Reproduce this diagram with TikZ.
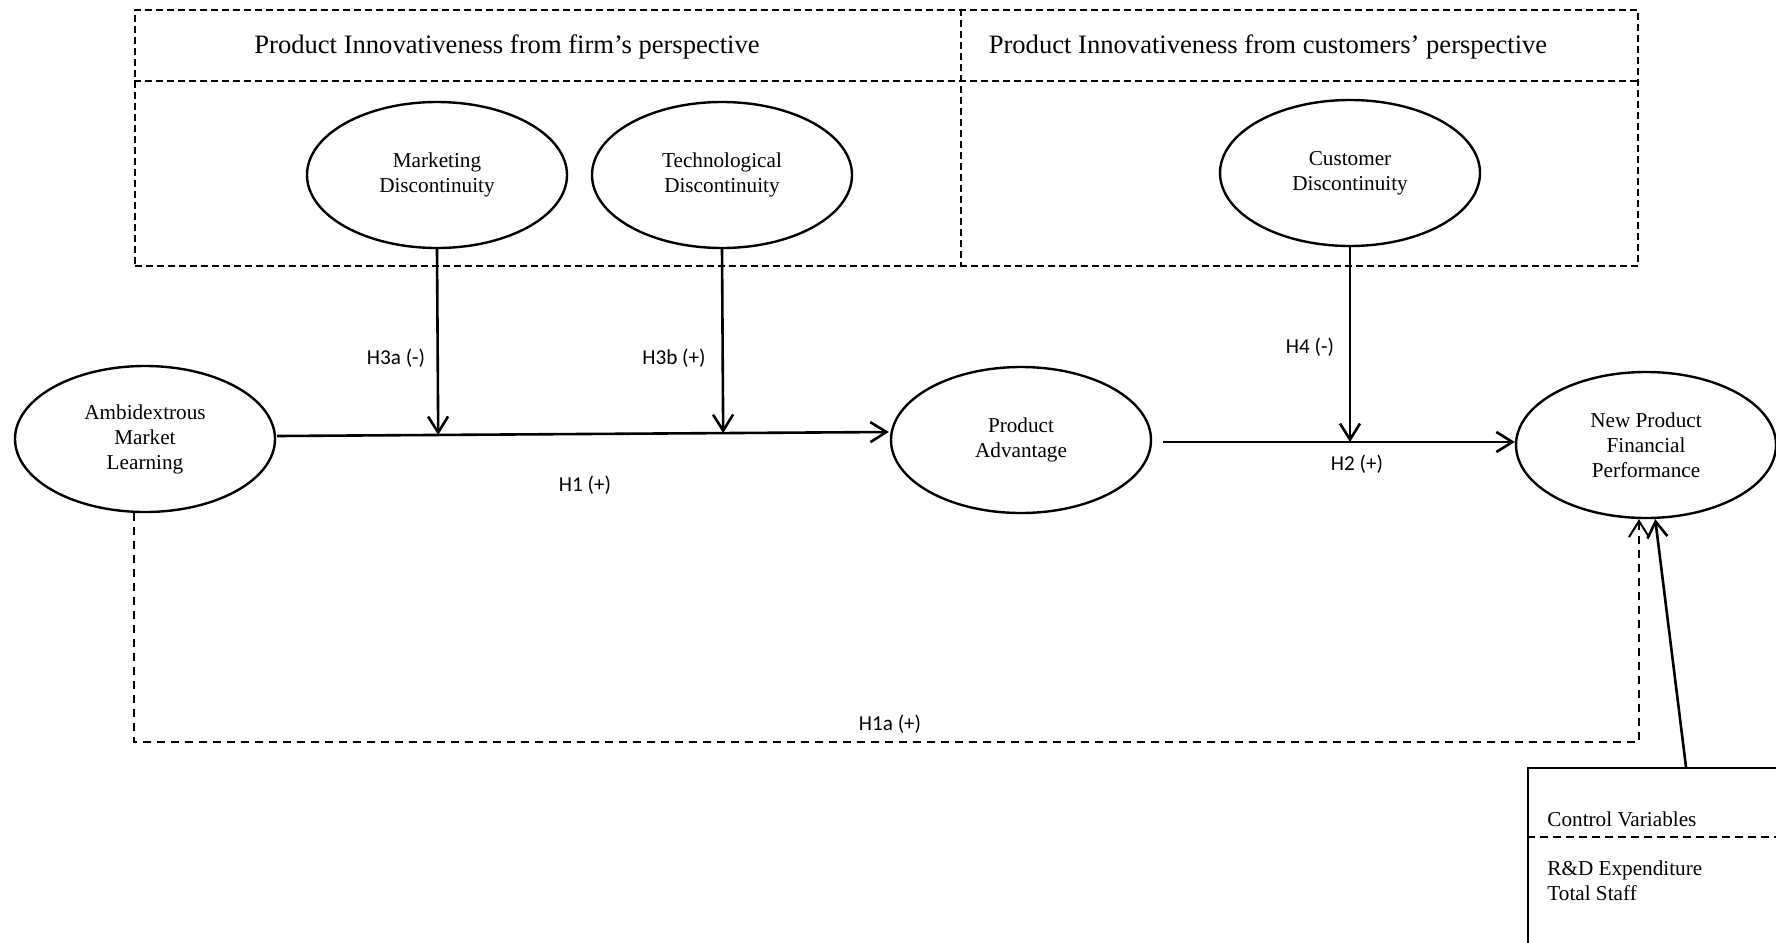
\documentclass[tikz,border=0pt]{standalone}
\usepackage{fontspec}
\setmainfont{Liberation Serif}
\newfontfamily\labelfont{Carlito}
\usetikzlibrary{arrows.meta,calc,shapes.geometric}

\begin{document}
\begin{tikzpicture}[x=0.5pt,y=-0.5pt,
  construct/.style={ellipse,draw,line width=1.2pt,minimum width=130pt,minimum height=73pt,
    inner sep=0pt,align=center,font=\fontsize{10.6}{12.5}\selectfont},
  link/.style={line width=1.3pt,-{Straight Barb[length=8pt,width=10pt]}},
  dashlink/.style={line width=1pt,dash pattern=on 4pt off 3pt,-{Straight Barb[length=8pt,width=10pt]}},
  hyp/.style={font=\labelfont\fontsize{10.6}{12}\selectfont,inner sep=0pt},
  frame/.style={line width=1pt,dash pattern=on 3.5pt off 2pt},
  header/.style={font=\fontsize{13.3}{15}\selectfont,inner sep=0pt},
  plain/.style={font=\fontsize{10.6}{12.5}\selectfont,inner sep=0pt,align=left},
]
\useasboundingbox (0,0) rectangle (1776,942);
\clip (0,0) rectangle (1776,942);

% helper positions
\coordinate (hdr) at (0,81);
\coordinate (div) at (961,0);
\coordinate (h1a) at (0,742);
\coordinate (cvline) at (0,837);

% innovativeness frame
\node[frame,draw,anchor=north west,minimum width=751.5pt,minimum height=128pt,inner sep=0pt] (box) at (134,9) {};
\draw[frame] (box.west |- hdr) -- (box.east |- hdr);
\draw[frame] (div |- box.north) -- (div |- box.south);
\node[header] (firmhdr) at (507,47) {Product Innovativeness from firm’s perspective};
\node[header] (custhdr) at (1268,47) {Product Innovativeness from customers’ perspective};

% constructs
\node[construct] (mkt) at (437,175) {Marketing\\Discontinuity};
\node[construct] (tech) at (722,175) {Technological\\Discontinuity};
\node[construct] (cust) at (1350,173) {Customer\\Discontinuity};
\node[construct] (aml) at (145,439) {Ambidextrous\\Market\\Learning};
\node[construct] (pa) at (1021,440) {Product\\Advantage};
\node[construct] (npfp) at (1646,445) {New Product\\Financial\\Performance};

% control variables box
\node[draw,line width=0.8pt,anchor=north west,minimum width=150pt,minimum height=100pt,inner sep=0pt] (ctrl) at (1527,767) {};
\draw[line width=0.8pt,dash pattern=on 4pt off 2.5pt] (ctrl.west |- cvline) -- (ctrl.east |- cvline);
\node[plain,anchor=west] (cvtitle) at (1547,819) {Control Variables};
\node[plain,anchor=west] (cvlist) at (1547,880.5) {R\&D Expenditure\\Total Staff};

% paths
\coordinate (h1s) at ($(aml.east)+(1,-3)$);
\coordinate (h1e) at ($(pa.west)+(-1,-8)$);
\draw[link] (h1s) -- (h1e);
\draw[link] (mkt.south) -- ($(h1s)!(mkt.south)!(h1e)$);
\draw[link] (tech.south) -- ($(h1s)!(tech.south)!(h1e)$);

\coordinate (h2s) at ($(pa.east)+(11,2)$);
\draw[link] (h2s) -- (npfp.west |- h2s);
\draw[link] (cust.south) -- (cust.south |- h2s);

\draw[dashlink] (aml.south -| box.west) -- (box.west |- h1a) -| (npfp.south -| box.east);

\coordinate (ctrltop) at ($(ctrl.north west)+(159,0)$);
\draw[link] (ctrltop) -- (npfp);

% hypothesis labels
\node[hyp] (l3a) at (396,358) {H3a (-)};
\node[hyp] (l3b) at (674,358) {H3b (+)};
\node[hyp] (l4) at (1310,347) {H4 (-)};
\node[hyp] (l1) at (585,485) {H1 (+)};
\node[hyp] (l2) at (1357,464) {H2 (+)};
\node[hyp] (l1a) at (890,724) {H1a (+)};
\end{tikzpicture}
\end{document}
